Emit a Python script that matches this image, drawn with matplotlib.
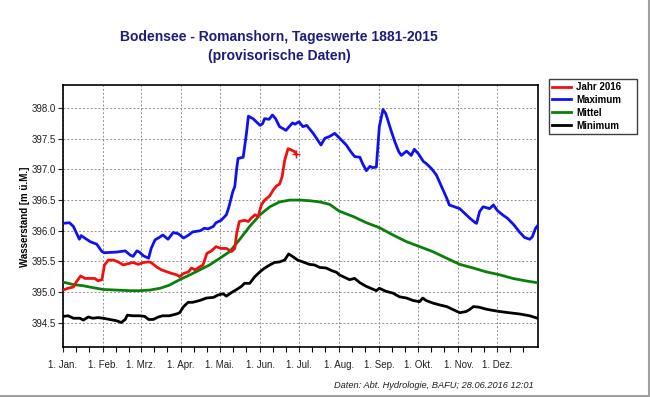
import matplotlib.pyplot as plt
from matplotlib.lines import Line2D

plt.rcParams['font.family'] = ['Liberation Sans', 'DejaVu Sans']

# month labels and first day of each month (2016, leap year, day index from 1. Jan.)
month_labels = ['1. Jan.', '1. Feb.', '1. Mrz.', '1. Apr.', '1. Mai.', '1. Jun.',
                '1. Jul.', '1. Aug.', '1. Sep.', '1. Okt.', '1. Nov.', '1. Dez.']
month_starts = [0, 31, 60, 91, 121, 152, 182, 213, 244, 274, 305, 335]
year_len = 366

# Maximum 1881-2015
max_days = [0, 5, 8, 12.6, 14, 21, 26, 30, 32, 41, 48, 52, 54, 57, 59, 62, 66, 68, 71, 75, 77,
            81, 85, 89, 93, 97, 100, 106, 109, 112, 116, 118, 122, 126, 128, 131, 132.5, 134,
            135, 139, 141.5, 143, 146.6, 152, 154, 155.5, 159, 161.5, 164, 167, 172, 177, 179,
            182, 185, 188, 193, 199, 202, 205.7, 209.6, 213.4, 218.5, 222, 225, 229, 231, 234,
            236.7, 239, 241.7, 244, 246.8, 249, 253, 256, 259, 261, 265, 268.6, 271, 274, 278,
            280, 284, 288, 292, 296, 298, 302, 306, 310, 314, 318, 319, 321.3, 324, 326, 329,
            332, 335, 339, 343, 348, 352, 356, 360, 362, 364.5, 366]
max_vals = [396.12, 396.13, 396.07, 395.86, 395.92, 395.82, 395.78, 395.66, 395.64, 395.65,
            395.67, 395.60, 395.58, 395.67, 395.65, 395.59, 395.55, 395.71, 395.85, 395.90,
            395.93, 395.86, 395.97, 395.95, 395.88, 395.93, 395.98, 396.00, 396.04, 396.03,
            396.07, 396.13, 396.17, 396.26, 396.39, 396.64, 396.72, 397.02, 397.18, 397.20,
            397.59, 397.87, 397.83, 397.72, 397.75, 397.83, 397.82, 397.89, 397.83, 397.70,
            397.64, 397.76, 397.74, 397.78, 397.70, 397.72, 397.59, 397.40, 397.51, 397.54,
            397.59, 397.51, 397.40, 397.29, 397.21, 397.20, 397.10, 396.98, 397.05, 397.03,
            397.04, 397.70, 397.98, 397.91, 397.64, 397.45, 397.29, 397.23, 397.30, 397.23,
            397.33, 397.26, 397.13, 397.10, 397.02, 396.91, 396.72, 396.53, 396.42, 396.39,
            396.36, 396.28, 396.20, 396.13, 396.12, 396.31, 396.39, 396.38, 396.36, 396.42,
            396.33, 396.26, 396.20, 396.09, 395.98, 395.89, 395.86, 395.90, 396.04, 396.08]

# Mittel
mean_days = [0, 8, 15.7, 23, 31, 41, 52, 59, 67, 75, 82, 90, 98, 105.5, 113, 121, 128.7, 136,
             144, 152, 159.5, 167, 175, 182.6, 190, 198, 205.7, 213, 224, 234, 244, 254.5, 265,
             275, 285, 296, 306, 316.5, 326, 336.7, 347, 357, 366]
mean_vals = [395.16, 395.12, 395.10, 395.07, 395.04, 395.03, 395.02, 395.02, 395.03, 395.06,
             395.11, 395.20, 395.28, 395.36, 395.44, 395.55, 395.66, 395.85, 396.07, 396.26,
             396.39, 396.47, 396.50, 396.50, 396.49, 396.47, 396.43, 396.32, 396.23, 396.13,
             396.05, 395.93, 395.82, 395.74, 395.66, 395.55, 395.45, 395.39, 395.33, 395.28,
             395.22, 395.18, 395.15]

# Minimum 1881-2015
min_days = [0, 4, 8, 13, 15.7, 19.5, 23, 27, 31, 36, 41, 45, 48, 49.6, 54, 59, 63, 66, 69.6,
            73.5, 77, 82, 87.6, 90, 93, 96.5, 100, 105.5, 110.7, 116, 119.7, 123.5, 126, 130,
            134, 137.6, 140, 144, 148, 152, 155.6, 159.5, 163, 167, 171, 174, 177, 181, 185,
            190, 194, 198, 203, 207, 211, 213, 221, 225, 229, 234, 241.7, 244, 249, 254.5,
            259.6, 265, 270, 275, 277.5, 280, 285, 290, 296, 301, 306, 311, 313.5, 316.5, 321,
            326, 331, 336.7, 344, 352, 360, 366]
min_vals = [394.60, 394.61, 394.57, 394.57, 394.54, 394.59, 394.57, 394.58, 394.57, 394.55,
            394.53, 394.50, 394.55, 394.62, 394.61, 394.61, 394.60, 394.55, 394.55, 394.59,
            394.61, 394.61, 394.64, 394.66, 394.76, 394.83, 394.83, 394.86, 394.90, 394.91,
            394.95, 394.97, 394.93, 394.99, 395.04, 395.09, 395.14, 395.14, 395.25, 395.33,
            395.39, 395.44, 395.48, 395.49, 395.52, 395.62, 395.58, 395.52, 395.49, 395.45,
            395.44, 395.40, 395.39, 395.35, 395.32, 395.28, 395.20, 395.22, 395.15, 395.09,
            395.02, 395.06, 395.01, 394.98, 394.92, 394.90, 394.86, 394.84, 394.90, 394.86,
            394.82, 394.79, 394.76, 394.71, 394.66, 394.68, 394.71, 394.76, 394.75, 394.72,
            394.70, 394.68, 394.66, 394.64, 394.61, 394.57]

# Jahr 2016 (bis 28.06.)
y2016_days = [0, 4, 8, 10.5, 13.6, 17, 21, 24.6, 27, 30, 32, 35, 39, 42.6, 46.5, 50, 54, 58,
              62, 66, 68, 72, 76, 80, 84, 87.6, 90, 93, 97, 99, 102, 105.5, 108, 111, 114.5,
              118, 122, 126, 130, 132.5, 134, 136, 140, 143, 145, 148, 150.5, 153, 155.6,
              159.5, 162, 164.6, 167, 169, 171, 173.6, 176, 178.7, 180]
y2016_vals = [395.03, 395.06, 395.08, 395.17, 395.26, 395.22, 395.22, 395.22, 395.18, 395.20,
              395.44, 395.52, 395.52, 395.49, 395.44, 395.46, 395.48, 395.45, 395.48, 395.49,
              395.48, 395.41, 395.36, 395.33, 395.30, 395.28, 395.25, 395.30, 395.33, 395.39,
              395.36, 395.41, 395.44, 395.63, 395.67, 395.74, 395.71, 395.71, 395.66, 395.71,
              395.96, 396.15, 396.17, 396.15, 396.20, 396.26, 396.23, 396.42, 396.50, 396.57,
              396.66, 396.73, 396.76, 396.88, 397.15, 397.34, 397.32, 397.29, 397.25]

fig = plt.figure(figsize=(6.5, 3.97), dpi=100)
ax = fig.add_axes([63 / 650, 1 - 347 / 397, 474.5 / 650, 262 / 397])

ax.plot(max_days, max_vals, color='#1010f0', lw=2, label='Maximum', zorder=3)
ax.plot(mean_days, mean_vals, color='#0a800a', lw=2, label='Mittel', zorder=3)
ax.plot(min_days, min_vals, color='black', lw=2, label='Minimum', zorder=3)
ax.plot(y2016_days, y2016_vals, color='#f01010', lw=2, label='Jahr 2016', zorder=4)
ax.plot(y2016_days[-1], y2016_vals[-1], marker='+', color='#f01010', ms=6, mew=1.0, zorder=4)

ax.set_xlim(0, year_len)
ax.set_ylim(394.1, 398.38)
ax.set_xticks(month_starts)
ax.set_xticklabels(month_labels)
minor = [m + d for m in month_starts for d in (10, 20)]
ax.set_xticks(minor, minor=True)
ax.set_yticks([394.5, 395.0, 395.5, 396.0, 396.5, 397.0, 397.5, 398.0])
ax.set_yticklabels(['394.5', '395.0', '395.5', '396.0', '396.5', '397.0', '397.5', '398.0'])
ax.tick_params(axis='both', which='major', direction='out', length=3.5, width=0.8,
               labelsize=7, colors='#202020')
ax.tick_params(axis='y', which='major', pad=1.5)
ax.tick_params(axis='x', which='major', pad=6)
ax.tick_params(axis='x', which='minor', direction='out', length=3.5, width=0.8)
ax.grid(True, which='major', color='#909090', linestyle=(0, (2, 2)), lw=0.7)
for s in ax.spines.values():
    s.set_linewidth(1.2)

fig.text(25 / 650, 1 - 217 / 397, 'Wasserstand [m ü.M.]', rotation=90, ha='center',
         va='center', fontsize=7, fontweight='bold')

fig.text(279 / 650, 1 - 36.5 / 397, 'Bodensee - Romanshorn, Tageswerte 1881-2015',
         ha='center', va='center', fontsize=10, fontweight='bold', color='#1c1c7c')
fig.text(279 / 650, 1 - 56 / 397, '(provisorische Daten)',
         ha='center', va='center', fontsize=10, fontweight='bold', color='#1c1c7c')

fig.text(534 / 650, 1 - 385 / 397, 'Daten: Abt. Hydrologie, BAFU; 28.06.2016 12:01',
         ha='right', va='center', fontsize=6.7, style='italic', color='#202020')

handles, labels = ax.get_legend_handles_labels()
order = [3, 0, 1, 2]
leg = fig.legend([handles[i] for i in order], [labels[i] for i in order],
                 loc='upper left', mode='expand',
                 bbox_to_anchor=(549 / 650, 1 - 131 / 397, 88 / 650, 52 / 397),
                 fancybox=False, edgecolor='#404040', framealpha=1,
                 prop={'size': 7, 'weight': 'bold'}, handlelength=2.0,
                 handletextpad=0.5, labelspacing=0.3, borderpad=0.3, borderaxespad=0)
leg.get_frame().set_linewidth(1.0)

# grey frame lines on right and bottom edge of the picture
fig.add_artist(Line2D([0, 1 - 1 / 650], [1.5 / 397, 1.5 / 397], color='#a0a0a0', lw=1.5))
fig.add_artist(Line2D([1 - 1.5 / 650, 1 - 1.5 / 650], [0, 1], color='#a0a0a0', lw=1.5))

fig.savefig('out.png', dpi=100)
